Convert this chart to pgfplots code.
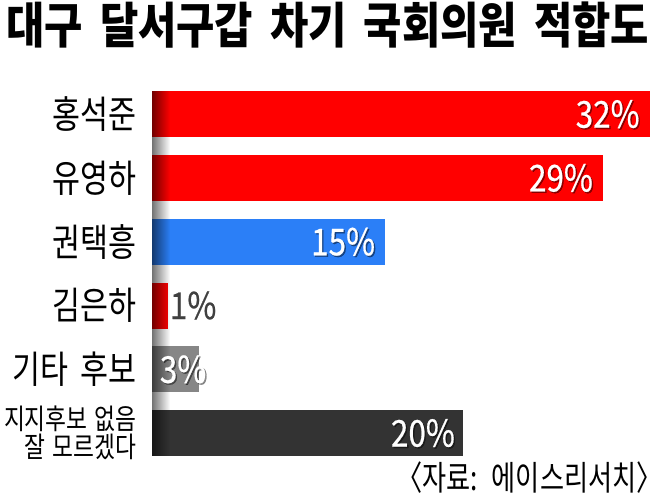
\documentclass[border=0pt]{standalone}
\usepackage{fontspec}
\usepackage{pgfplots}
\pgfplotsset{compat=1.18}
\usetikzlibrary{fadings}

\setmainfont{Noto Sans CJK KR}[FakeStretch=0.8, WordSpace=1.8]
\newfontfamily\titlefont{Noto Sans CJK KR}[FakeStretch=0.85]
\newfontfamily\numfont{Noto Sans CJK KR}[FakeStretch=0.85, FakeBold=0.5]
\newfontfamily\srcfont{Noto Sans CJK KR}[FakeStretch=0.77, WordSpace=2]
\newfontfamily\smallfont{Noto Sans CJK KR}[FakeStretch=0.8, WordSpace=1.4]

\definecolor{barred}{HTML}{FF0000}
\definecolor{barblue}{HTML}{2B7FF7}
\definecolor{bargray}{HTML}{868686}
\definecolor{bardark}{HTML}{333333}
\definecolor{lbldark}{HTML}{404040}

\tikzfading[name=fade right, left color=transparent!0, right color=transparent!100]
\tikzset{lblshadow/.style={black, opacity=0.45, xshift=0.7pt, yshift=-0.7pt}}

\begin{document}
\begin{tikzpicture}
% 1px of the reference = 0.5pt
\useasboundingbox (0,0) rectangle (325.5pt,251pt);

\node[anchor=base west, inner sep=0pt, font=\titlefont\bfseries\fontsize{24.5}{24.5}\selectfont]
  at (3pt,229pt) {대구\hspace{8.5pt}달서구갑\hspace{8.5pt}차기\hspace{8.5pt}국회의원\hspace{8.5pt}적합도};

\begin{axis}[
  at={(76pt,18.5pt)}, anchor=south west,
  scale only axis, width=249pt, height=191.4pt,
  xmin=0, xmax=32, ymin=-0.5, ymax=5.5, y dir=reverse,
  axis line style={draw=none},
  xtick=\empty,
  ytick={0,1,2,3,4},
  yticklabels={홍석준,유영하,권택흥,김은하,기타 후보},
  yticklabel style={anchor=east, inner sep=0pt, xshift=-7.5pt,
    font=\fontsize{19}{19}\selectfont},
  major tick length=0pt,
  xbar, bar width=23pt, bar shift=0pt,
  point meta=x,
  /pgf/number format/assume math mode=true,
  nodes near coords={\pgfmathprintnumber{\pgfplotspointmeta}\%},
  every node near coord/.append style={inner sep=0pt,
    font=\numfont\fontsize{18.5}{18.5}\selectfont},
  clip=false,
]
% bars
\addplot[fill=barred, draw=none, nodes near coords={}] coordinates {(32,0)};
\addplot[fill=barred, draw=none, nodes near coords={}] coordinates {(29,1)};
\addplot[fill=barblue, draw=none, nodes near coords={}] coordinates {(15,2)};
\addplot[fill=barred, draw=none, nodes near coords={}] coordinates {(1,3)};
\addplot[fill=bargray, draw=none, nodes near coords={}] coordinates {(3,4)};
\addplot[fill=bardark, draw=none, nodes near coords={}] coordinates {(20,5)};

% shadow at the left edge of the bars
\fill[black, opacity=0.55, path fading=fade right]
  ([yshift=11.5pt]axis cs:0,0) rectangle ([xshift=9pt,yshift=-11.5pt]axis cs:0,5);

% label shadows
\addplot[draw=none, fill=none, nodes near coords style={anchor=east, xshift=-5pt, lblshadow}] coordinates {(32,0)};
\addplot[draw=none, fill=none, nodes near coords style={anchor=east, xshift=-5pt, lblshadow}] coordinates {(29,1)};
\addplot[draw=none, fill=none, nodes near coords style={anchor=east, xshift=-5pt, lblshadow}] coordinates {(15,2)};
\addplot[draw=none, fill=none, nodes near coords style={anchor=east, xshift=4pt, lblshadow}] coordinates {(3,4)};
\addplot[draw=none, fill=none, nodes near coords style={anchor=east, xshift=-4pt, lblshadow}] coordinates {(20,5)};

% labels
\addplot[draw=none, fill=none, nodes near coords style={anchor=east, xshift=-5pt, white}] coordinates {(32,0)};
\addplot[draw=none, fill=none, nodes near coords style={anchor=east, xshift=-5pt, white}] coordinates {(29,1)};
\addplot[draw=none, fill=none, nodes near coords style={anchor=east, xshift=-5pt, white}] coordinates {(15,2)};
\addplot[draw=none, fill=none, nodes near coords style={anchor=west, xshift=1pt, lbldark}] coordinates {(1,3)};
\addplot[draw=none, fill=none, nodes near coords style={anchor=east, xshift=4pt, white}] coordinates {(3,4)};
\addplot[draw=none, fill=none, nodes near coords style={anchor=east, xshift=-4pt, white}] coordinates {(20,5)};

\node[anchor=east, align=right, inner sep=0pt, font=\smallfont\fontsize{14.2}{12}\selectfont]
  at ([xshift=-7.5pt]axis cs:0,5) {지지후보 없음\\잘 모르겠다};
\end{axis}

\node[anchor=base east, inner sep=0pt, font=\srcfont\fontsize{17}{17}\selectfont]
  at (325.5pt,6pt) {〈자료: 에이스리서치〉\kern-6pt};
\end{tikzpicture}
\end{document}
